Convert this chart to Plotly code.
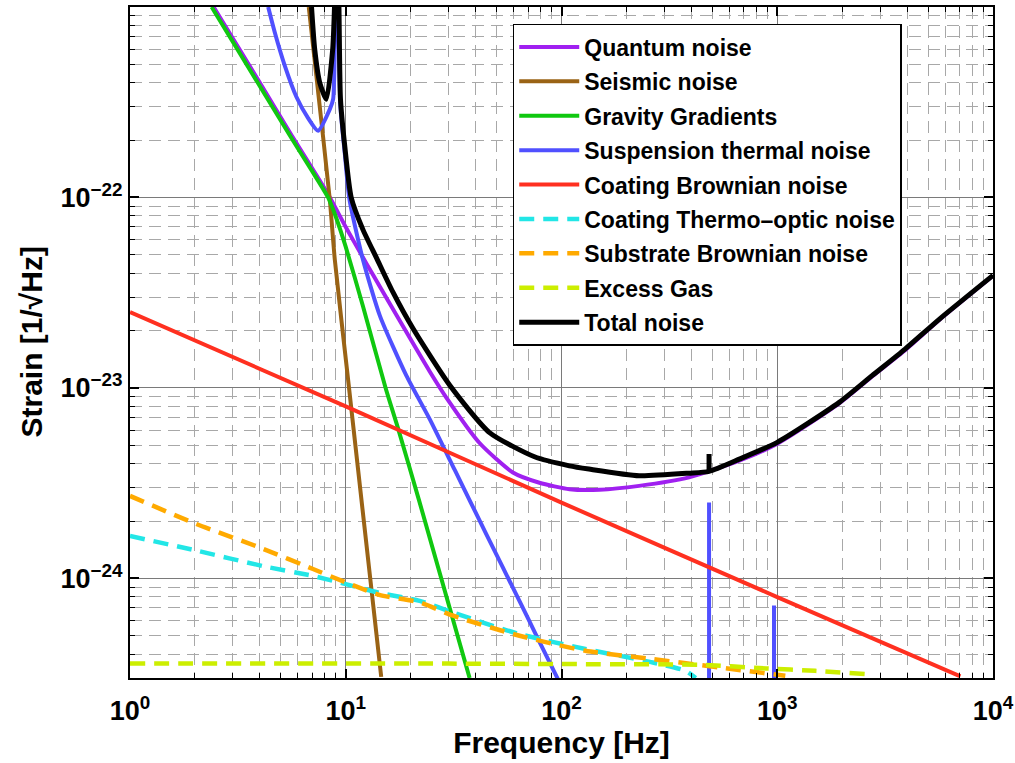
import plotly.graph_objects as go

# ---------------- data ----------------
quantum_f = [2.39, 4.0, 5.5, 8.28, 10.1, 12.5, 14.4, 17.8, 24.5, 29.3, 41.7, 59.5, 79, 109, 150,
             229, 390, 667, 1000, 1938, 2751, 3913, 5650, 10000]
quantum_h = [1.04e-21, 4.0e-22, 2.2e-22, 1.04e-22, 6.85e-23, 4.48e-23, 3.4e-23, 2.25e-23,
             1.22e-23, 8.87e-24, 5.14e-24, 3.6e-24, 3.18e-24, 2.94e-24, 2.92e-24, 3.06e-24, 3.39e-24,
             4.15e-24, 5.1e-24, 8.3e-24, 1.15e-23, 1.58e-23, 2.28e-23, 3.88e-23]

seismic_f = [6.74, 7.31, 8.43, 8.9, 10.25, 11.4, 14.6]
seismic_h = [1.0e-21, 4.34e-22, 9.8e-23, 4.7e-23, 1.11e-23, 3.75e-24, 3.04e-25]

gravity_f = [2.39, 4.0, 5.5, 7.0, 8.28, 9.0, 10.0, 12.0, 15.3, 17.5, 21.8, 37.5]
gravity_h = [1.0e-21, 3.84e-22, 2.12e-22, 1.37e-22, 1.0e-22, 7.9e-23, 5.5e-23, 2.7e-23, 1.0e-23,
             6.1e-24, 2.6e-24, 3.0e-25]

suspension_f = [4.37, 4.69, 5.22, 5.91, 6.69, 7.44, 8.43, 8.74, 9.05, 9.45, 9.9, 10.4, 12.0, 14.4,
                19.1, 24.5, 32.0, 44.8, 63.9, 76.3, 96.1]
suspension_h = [1.0e-21, 7.35e-22, 4.91e-22, 3.37e-22, 2.61e-22, 2.24e-22, 2.9e-22, 3.28e-22, 3.0e-21,
                3.0e-22, 1.7e-22, 9.8e-23, 4.74e-23, 2.39e-23, 1.16e-23, 6.86e-24, 3.71e-24, 1.71e-24,
                7.6e-25, 5.04e-25, 2.97e-25]
# violin-mode peaks of the suspension thermal noise (base below the axis floor)
violin_f = [483, 483, 483, 966, 966, 966]
violin_h = [1e-26, 2.5e-24, 1e-26, 1e-26, 7.2e-25, 1e-26]

coating_f = [1, 10, 100, 1000, 7060]
coating_h = [2.5e-23, 8.0e-24, 2.5e-24, 7.98e-25, 3.06e-25]

thermo_f = [1, 2.03, 4.14, 7.05, 10, 14.3, 22, 31.4, 63.9, 129, 265, 376, 419]
thermo_h = [1.67e-24, 1.4e-24, 1.16e-24, 1.03e-24, 9.33e-25, 8.4e-25, 7.62e-25, 6.62e-25, 5.1e-25,
            4.26e-25, 3.62e-25, 3.27e-25, 3.0e-25]

substrate_f = [1, 2.03, 4.14, 7.05, 10, 14.3, 22, 31.4, 63.9, 129, 265, 538, 1090]
substrate_h = [2.71e-24, 1.93e-24, 1.43e-24, 1.12e-24, 9.53e-25, 8.2e-25, 7.48e-25, 6.37e-25, 5.0e-25,
               4.17e-25, 3.77e-25, 3.41e-25, 3.08e-25]

gas_f = [1, 30, 100, 434, 888, 1500, 2570]
gas_h = [3.58e-25, 3.57e-25, 3.55e-25, 3.52e-25, 3.37e-25, 3.27e-25, 3.15e-25]

total_f = [6.94, 7.18, 7.58, 8.13, 8.7, 8.87, 9.1, 9.3, 9.45, 9.9, 10.6, 12.0, 13.9, 16.5, 20.5, 30.4,
           46.4, 75, 108.8, 134, 229, 390, 483, 667, 1000, 1938, 2751, 3913, 5650, 10000]
total_h = [1.0e-21, 6.0e-22, 4.0e-22, 3.28e-22, 6.0e-22, 1.0e-21, 3.0e-21, 1.0e-21, 3.3e-22, 1.85e-22,
           1.0e-22, 6.8e-23, 4.8e-23, 3.2e-23, 2.05e-23, 1.03e-23, 5.83e-24, 4.35e-24, 3.9e-24,
           3.75e-24, 3.46e-24, 3.57e-24, 3.65e-24, 4.23e-24, 5.18e-24, 8.4e-24, 1.16e-23, 1.6e-23,
           2.3e-23, 3.9e-23]
# small violin-mode bump on the total noise
total_spike_f = [483, 483]
total_spike_h = [3.65e-24, 4.5e-24]

x_tickvals = [1, 10, 100, 1000, 10000]
x_ticktext = ["10<sup>0</sup>", "10<sup>1</sup>", "10<sup>2</sup>", "10<sup>3</sup>", "10<sup>4</sup>"]
y_tickvals = [1e-24, 1e-23, 1e-22]
y_ticktext = ["10<sup>\u221224</sup>", "10<sup>\u221223</sup>", "10<sup>\u221222</sup>"]

DASH = "15px,9px"
series = [
    ("Quantum noise", quantum_f, quantum_h, "#A020F0", "solid", 4),
    ("Seismic noise", seismic_f, seismic_h, "#9A6315", "solid", 4),
    ("Gravity Gradients", gravity_f, gravity_h, "#10C810", "solid", 4),
    ("Suspension thermal noise", suspension_f, suspension_h, "#5050FF", "solid", 4),
    ("Coating Brownian noise", coating_f, coating_h, "#FF3020", "solid", 4),
    ("Coating Thermo\u2013optic noise", thermo_f, thermo_h, "#22E6E6", DASH, 4.5),
    ("Substrate Brownian noise", substrate_f, substrate_h, "#FFAA00", DASH, 4.5),
    ("Excess Gas", gas_f, gas_h, "#CCEE00", DASH, 4.5),
    ("Total noise", total_f, total_h, "#000000", "solid", 5),
]

FONT = "Liberation Sans, Arial, Helvetica, sans-serif"

fig = go.Figure()
for i, (name, f, h, color, dash, w) in enumerate(series):
    fig.add_trace(go.Scatter(x=f, y=h, mode="lines", name=name, legendgroup=f"g{i}",
                             line=dict(color=color, width=w, dash=dash, shape="spline", smoothing=0.6)))
    if name.startswith("Suspension"):
        fig.add_trace(go.Scatter(x=violin_f, y=violin_h, mode="lines", showlegend=False,
                                 legendgroup=f"g{i}", line=dict(color=color, width=w)))
    if name.startswith("Total"):
        fig.add_trace(go.Scatter(x=total_spike_f, y=total_spike_h, mode="lines", showlegend=False,
                                 legendgroup=f"g{i}", line=dict(color=color, width=w)))

axis_common = dict(
    type="log", automargin=False,
    showline=True, linecolor="black", linewidth=2, mirror="allticks",
    ticks="inside", ticklen=9, tickwidth=1.5, tickcolor="black",
    showgrid=True, gridcolor="#7a7a7a", gridwidth=1,
    zeroline=False,
    tickfont=dict(family=FONT, size=27, color="black", weight="bold"),
    minor=dict(dtick="D1", ticks="inside", ticklen=5, tickwidth=1, tickcolor="black",
               showgrid=True, gridcolor="#a8a8a8", gridwidth=1, griddash="12px,7px"),
)

fig.update_layout(
    width=1015, height=763,
    margin=dict(l=130, r=22, t=7, b=85),
    paper_bgcolor="white", plot_bgcolor="white",
    font=dict(family=FONT, color="black"),
    xaxis=dict(axis_common, range=[0, 4], tickvals=x_tickvals, ticktext=x_ticktext,
               ticklabelstandoff=8,
               title=dict(text="Frequency [Hz]", font=dict(family=FONT, size=30, weight="bold"),
                          standoff=4)),
    yaxis=dict(axis_common, range=[-24.5229, -21.0], tickvals=y_tickvals, ticktext=y_ticktext),
    legend=dict(x=0.4435, y=0.9747, xanchor="left", yanchor="top",
                bgcolor="white", bordercolor="black", borderwidth=1.5,
                font=dict(family=FONT, size=23, color="black", weight="bold"),
                itemwidth=60, tracegroupgap=1.5, traceorder="grouped"),
    showlegend=True,
    annotations=[dict(text="<b>Strain [1/\u221aHz]</b>", xref="paper", yref="paper",
                      x=-0.1147, y=0.5, xanchor="center", yanchor="middle", textangle=-90,
                      showarrow=False, font=dict(family=FONT, size=30, color="black"))],
)

fig.write_html("out.html", config={"displayModeBar": False},
               post_script="document.body.style.margin='0';")
